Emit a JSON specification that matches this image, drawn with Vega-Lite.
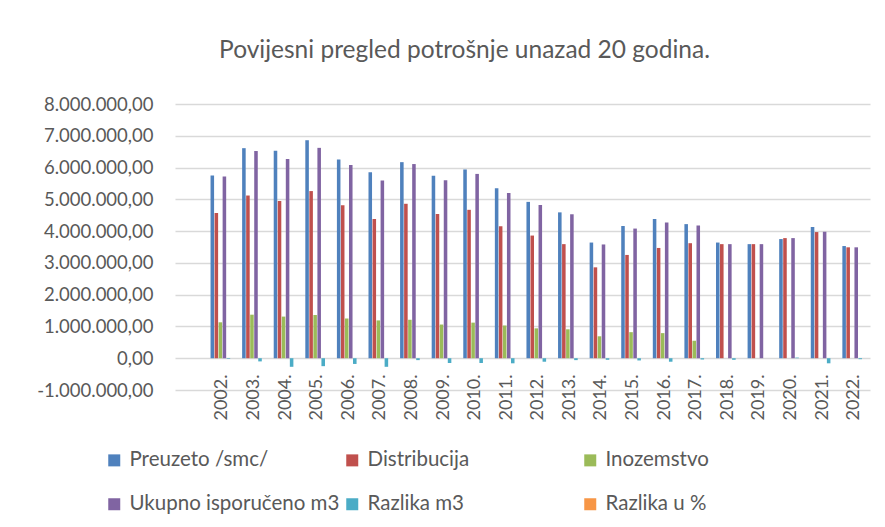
{
  "$schema": "https://vega.github.io/schema/vega-lite/v6.json",
  "width": 695,
  "height": 286,
  "autosize": {"type": "none"},
  "padding": {"left": 175, "top": 104, "right": 15, "bottom": 137},
  "background": "white",
  "title": {
    "text": "Povijesni pregled potrošnje unazad 20 godina.",
    "font": "Lato",
    "fontSize": 24.5,
    "fontWeight": "normal",
    "color": "#595959",
    "anchor": "middle",
    "frame": "group",
    "dx": -58,
    "offset": 32
  },
  "config": {
    "locale": {"number": {"decimal": ",", "thousands": ".", "grouping": [3], "currency": ["", ""], "minus": "-"}},
    "view": {"stroke": null},
    "axis": {"labelFont": "Lato", "labelColor": "#595959"}
  },
  "data": {
    "values": [
      {"year": "2002.", "series": "Preuzeto /smc/", "value": 5750000},
      {"year": "2002.", "series": "Distribucija", "value": 4570000},
      {"year": "2002.", "series": "Inozemstvo", "value": 1130000},
      {"year": "2002.", "series": "Ukupno isporučeno m3", "value": 5720000},
      {"year": "2002.", "series": "Razlika m3", "value": -20000},
      {"year": "2002.", "series": "Razlika u %", "value": -0.3},
      {"year": "2003.", "series": "Preuzeto /smc/", "value": 6610000},
      {"year": "2003.", "series": "Distribucija", "value": 5120000},
      {"year": "2003.", "series": "Inozemstvo", "value": 1370000},
      {"year": "2003.", "series": "Ukupno isporučeno m3", "value": 6520000},
      {"year": "2003.", "series": "Razlika m3", "value": -100000},
      {"year": "2003.", "series": "Razlika u %", "value": -1.5},
      {"year": "2004.", "series": "Preuzeto /smc/", "value": 6530000},
      {"year": "2004.", "series": "Distribucija", "value": 4950000},
      {"year": "2004.", "series": "Inozemstvo", "value": 1310000},
      {"year": "2004.", "series": "Ukupno isporučeno m3", "value": 6270000},
      {"year": "2004.", "series": "Razlika m3", "value": -270000},
      {"year": "2004.", "series": "Razlika u %", "value": -4.1},
      {"year": "2005.", "series": "Preuzeto /smc/", "value": 6860000},
      {"year": "2005.", "series": "Distribucija", "value": 5260000},
      {"year": "2005.", "series": "Inozemstvo", "value": 1360000},
      {"year": "2005.", "series": "Ukupno isporučeno m3", "value": 6620000},
      {"year": "2005.", "series": "Razlika m3", "value": -250000},
      {"year": "2005.", "series": "Razlika u %", "value": -3.6},
      {"year": "2006.", "series": "Preuzeto /smc/", "value": 6250000},
      {"year": "2006.", "series": "Distribucija", "value": 4810000},
      {"year": "2006.", "series": "Inozemstvo", "value": 1250000},
      {"year": "2006.", "series": "Ukupno isporučeno m3", "value": 6080000},
      {"year": "2006.", "series": "Razlika m3", "value": -180000},
      {"year": "2006.", "series": "Razlika u %", "value": -2.9},
      {"year": "2007.", "series": "Preuzeto /smc/", "value": 5850000},
      {"year": "2007.", "series": "Distribucija", "value": 4380000},
      {"year": "2007.", "series": "Inozemstvo", "value": 1190000},
      {"year": "2007.", "series": "Ukupno isporučeno m3", "value": 5590000},
      {"year": "2007.", "series": "Razlika m3", "value": -270000},
      {"year": "2007.", "series": "Razlika u %", "value": -4.6},
      {"year": "2008.", "series": "Preuzeto /smc/", "value": 6170000},
      {"year": "2008.", "series": "Distribucija", "value": 4860000},
      {"year": "2008.", "series": "Inozemstvo", "value": 1210000},
      {"year": "2008.", "series": "Ukupno isporučeno m3", "value": 6110000},
      {"year": "2008.", "series": "Razlika m3", "value": -60000},
      {"year": "2008.", "series": "Razlika u %", "value": -1.0},
      {"year": "2009.", "series": "Preuzeto /smc/", "value": 5740000},
      {"year": "2009.", "series": "Distribucija", "value": 4540000},
      {"year": "2009.", "series": "Inozemstvo", "value": 1060000},
      {"year": "2009.", "series": "Ukupno isporučeno m3", "value": 5600000},
      {"year": "2009.", "series": "Razlika m3", "value": -150000},
      {"year": "2009.", "series": "Razlika u %", "value": -2.6},
      {"year": "2010.", "series": "Preuzeto /smc/", "value": 5940000},
      {"year": "2010.", "series": "Distribucija", "value": 4670000},
      {"year": "2010.", "series": "Inozemstvo", "value": 1120000},
      {"year": "2010.", "series": "Ukupno isporučeno m3", "value": 5800000},
      {"year": "2010.", "series": "Razlika m3", "value": -150000},
      {"year": "2010.", "series": "Razlika u %", "value": -2.5},
      {"year": "2011.", "series": "Preuzeto /smc/", "value": 5350000},
      {"year": "2011.", "series": "Distribucija", "value": 4150000},
      {"year": "2011.", "series": "Inozemstvo", "value": 1030000},
      {"year": "2011.", "series": "Ukupno isporučeno m3", "value": 5200000},
      {"year": "2011.", "series": "Razlika m3", "value": -160000},
      {"year": "2011.", "series": "Razlika u %", "value": -3.0},
      {"year": "2012.", "series": "Preuzeto /smc/", "value": 4920000},
      {"year": "2012.", "series": "Distribucija", "value": 3860000},
      {"year": "2012.", "series": "Inozemstvo", "value": 940000},
      {"year": "2012.", "series": "Ukupno isporučeno m3", "value": 4820000},
      {"year": "2012.", "series": "Razlika m3", "value": -110000},
      {"year": "2012.", "series": "Razlika u %", "value": -2.2},
      {"year": "2013.", "series": "Preuzeto /smc/", "value": 4590000},
      {"year": "2013.", "series": "Distribucija", "value": 3590000},
      {"year": "2013.", "series": "Inozemstvo", "value": 910000},
      {"year": "2013.", "series": "Ukupno isporučeno m3", "value": 4530000},
      {"year": "2013.", "series": "Razlika m3", "value": -60000},
      {"year": "2013.", "series": "Razlika u %", "value": -1.3},
      {"year": "2014.", "series": "Preuzeto /smc/", "value": 3640000},
      {"year": "2014.", "series": "Distribucija", "value": 2860000},
      {"year": "2014.", "series": "Inozemstvo", "value": 690000},
      {"year": "2014.", "series": "Ukupno isporučeno m3", "value": 3580000},
      {"year": "2014.", "series": "Razlika m3", "value": -50000},
      {"year": "2014.", "series": "Razlika u %", "value": -1.4},
      {"year": "2015.", "series": "Preuzeto /smc/", "value": 4160000},
      {"year": "2015.", "series": "Distribucija", "value": 3250000},
      {"year": "2015.", "series": "Inozemstvo", "value": 820000},
      {"year": "2015.", "series": "Ukupno isporučeno m3", "value": 4080000},
      {"year": "2015.", "series": "Razlika m3", "value": -70000},
      {"year": "2015.", "series": "Razlika u %", "value": -1.7},
      {"year": "2016.", "series": "Preuzeto /smc/", "value": 4380000},
      {"year": "2016.", "series": "Distribucija", "value": 3470000},
      {"year": "2016.", "series": "Inozemstvo", "value": 790000},
      {"year": "2016.", "series": "Ukupno isporučeno m3", "value": 4270000},
      {"year": "2016.", "series": "Razlika m3", "value": -110000},
      {"year": "2016.", "series": "Razlika u %", "value": -2.5},
      {"year": "2017.", "series": "Preuzeto /smc/", "value": 4220000},
      {"year": "2017.", "series": "Distribucija", "value": 3620000},
      {"year": "2017.", "series": "Inozemstvo", "value": 550000},
      {"year": "2017.", "series": "Ukupno isporučeno m3", "value": 4180000},
      {"year": "2017.", "series": "Razlika m3", "value": -40000},
      {"year": "2017.", "series": "Razlika u %", "value": -0.9},
      {"year": "2018.", "series": "Preuzeto /smc/", "value": 3640000},
      {"year": "2018.", "series": "Distribucija", "value": 3590000},
      {"year": "2018.", "series": "Inozemstvo", "value": 0},
      {"year": "2018.", "series": "Ukupno isporučeno m3", "value": 3590000},
      {"year": "2018.", "series": "Razlika m3", "value": -50000},
      {"year": "2018.", "series": "Razlika u %", "value": -1.4},
      {"year": "2019.", "series": "Preuzeto /smc/", "value": 3590000},
      {"year": "2019.", "series": "Distribucija", "value": 3590000},
      {"year": "2019.", "series": "Inozemstvo", "value": 0},
      {"year": "2019.", "series": "Ukupno isporučeno m3", "value": 3590000},
      {"year": "2019.", "series": "Razlika m3", "value": 0},
      {"year": "2019.", "series": "Razlika u %", "value": 0},
      {"year": "2020.", "series": "Preuzeto /smc/", "value": 3750000},
      {"year": "2020.", "series": "Distribucija", "value": 3780000},
      {"year": "2020.", "series": "Inozemstvo", "value": 0},
      {"year": "2020.", "series": "Ukupno isporučeno m3", "value": 3780000},
      {"year": "2020.", "series": "Razlika m3", "value": 20000},
      {"year": "2020.", "series": "Razlika u %", "value": 0.5},
      {"year": "2021.", "series": "Preuzeto /smc/", "value": 4130000},
      {"year": "2021.", "series": "Distribucija", "value": 3970000},
      {"year": "2021.", "series": "Inozemstvo", "value": 0},
      {"year": "2021.", "series": "Ukupno isporučeno m3", "value": 3980000},
      {"year": "2021.", "series": "Razlika m3", "value": -160000},
      {"year": "2021.", "series": "Razlika u %", "value": -3.9},
      {"year": "2022.", "series": "Preuzeto /smc/", "value": 3530000},
      {"year": "2022.", "series": "Distribucija", "value": 3490000},
      {"year": "2022.", "series": "Inozemstvo", "value": 0},
      {"year": "2022.", "series": "Ukupno isporučeno m3", "value": 3490000},
      {"year": "2022.", "series": "Razlika m3", "value": -30000},
      {"year": "2022.", "series": "Razlika u %", "value": -0.9}
    ]
  },
  "mark": {"type": "bar"},
  "encoding": {
    "x": {
      "field": "year",
      "type": "nominal",
      "sort": null,
      "scale": {
        "domain": ["", "2002.", "2003.", "2004.", "2005.", "2006.", "2007.", "2008.", "2009.", "2010.", "2011.", "2012.", "2013.", "2014.", "2015.", "2016.", "2017.", "2018.", "2019.", "2020.", "2021.", "2022."],
        "paddingInner": 0.25,
        "paddingOuter": 0.125
      },
      "axis": {
        "title": null,
        "orient": "bottom",
        "offset": -32,
        "labelAngle": -90,
        "labelFontSize": 18,
        "labelPadding": 16,
        "ticks": false,
        "domain": false,
        "grid": false
      }
    },
    "xOffset": {
      "field": "series",
      "type": "nominal",
      "sort": null,
      "scale": {
        "domain": ["Preuzeto /smc/", "Distribucija", "Inozemstvo", "Ukupno isporučeno m3", "Razlika m3", "Razlika u %"],
        "paddingInner": 0.12
      }
    },
    "y": {
      "field": "value",
      "type": "quantitative",
      "scale": {"domain": [-1000000, 8000000], "nice": false, "zero": true},
      "axis": {
        "title": null,
        "values": [-1000000, 0, 1000000, 2000000, 3000000, 4000000, 5000000, 6000000, 7000000, 8000000],
        "format": ",.2f",
        "labelFontSize": 18.5,
        "labelPadding": 22,
        "ticks": false,
        "domain": false,
        "gridColor": "#D9D9D9",
        "gridWidth": 1.5
      }
    },
    "color": {
      "field": "series",
      "type": "nominal",
      "sort": null,
      "scale": {
        "domain": ["Preuzeto /smc/", "Distribucija", "Inozemstvo", "Ukupno isporučeno m3", "Razlika m3", "Razlika u %"],
        "range": ["#4F81BD", "#C0504D", "#9BBB59", "#8064A2", "#4BACC6", "#F79646"]
      },
      "legend": {
        "title": null,
        "orient": "none",
        "legendX": -71,
        "legendY": 346,
        "columns": 3,
        "direction": "horizontal",
        "gridAlign": "all",
        "columnPadding": 2,
        "rowPadding": 23,
        "padding": 0,
        "symbolType": "square",
        "symbolSize": 144,
        "symbolStrokeWidth": 0,
        "labelFont": "Lato",
        "labelFontSize": 20.5,
        "labelColor": "#595959",
        "labelOffset": 5,
        "labelLimit": 400
      }
    }
  }
}
